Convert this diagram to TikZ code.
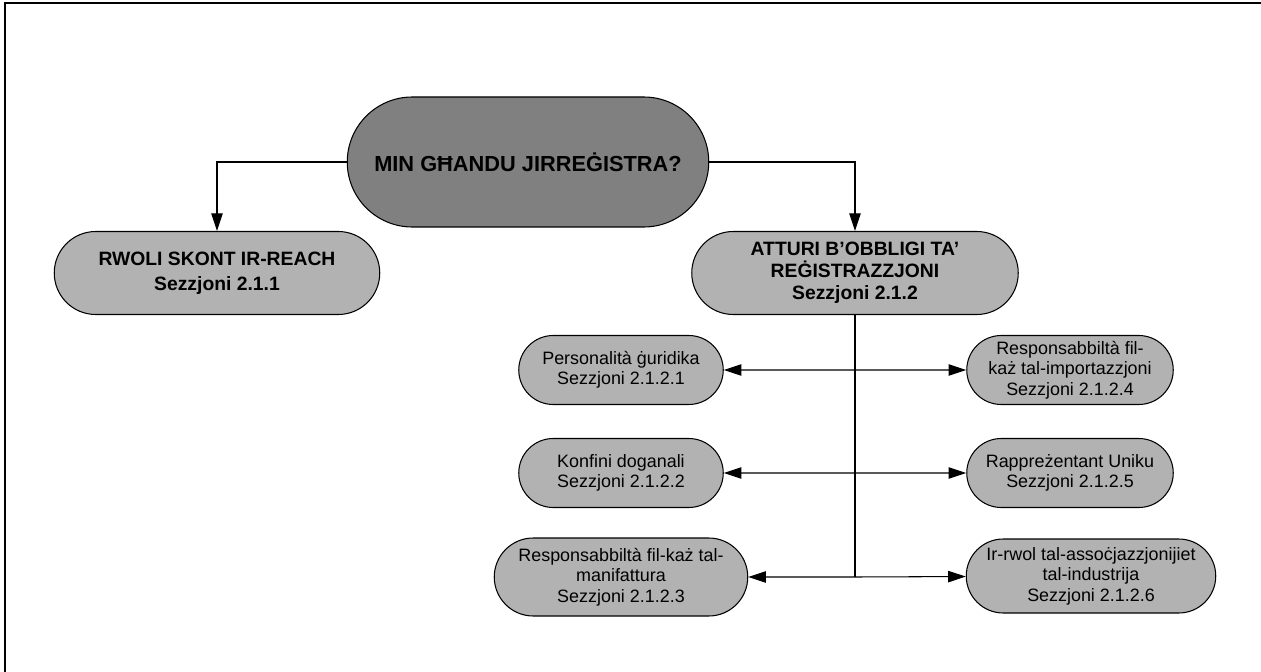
\documentclass[tikz,border=0pt]{standalone}
\usepackage{fontspec}
\setmainfont{Liberation Sans}
\usetikzlibrary{shapes.misc}
\usetikzlibrary{arrows.meta}

\begin{document}
\begin{tikzpicture}[x=0.02cm, y=-0.02cm]
        % ================= styles =================
        \tikzset{
            % stadium box
            pill/.style={rounded rectangle, draw=black, line width=0.6pt, align=center, inner sep=1pt},
            % the question (dark)
            mainpill/.style={pill, fill=black!50, font=\fontsize{12.4}{14}\selectfont\bfseries},
            % second level (bold)
            headpill/.style={pill, fill=black!30, font=\fontsize{11}{12.5}\selectfont\bfseries},
            % third level
            subpill/.style={pill, fill=black!30, font=\fontsize{10.2}{11.6}\selectfont},
            % connectors
            link/.style={line width=0.6pt, black},
            arrow/.style={link, -{Triangle[length=10pt, width=6.5pt]}},
            twoway/.style={link, {Triangle[length=10pt, width=6.5pt]}-{Triangle[length=10pt, width=6.5pt]}}
        }
        \useasboundingbox (0,0) rectangle (1261,672);

        % frame (cut at right and bottom)
        \draw[line width=1.2pt] (5,672) -- (5,3) -- (1261,3);

        % ================= top =================
        \node[mainpill, minimum width=365*0.02cm, minimum height=130*0.02cm] (question) at (528,162) {MIN GĦANDU JIRREĠISTRA?};

        % ================= second level =================
        \node[headpill, minimum width=329*0.02cm, minimum height=83*0.02cm] (rwoli) at (217,273) {RWOLI SKONT IR-REACH\\[2pt]Sezzjoni 2.1.1};
        \node[headpill, minimum width=330*0.02cm, minimum height=83*0.02cm] (atturi) at (855,273) {ATTURI B’OBBLIGI TA’\\REĠISTRAZZJONI\\Sezzjoni 2.1.2};

        \draw[arrow] (question.west) -| (rwoli.north);
        \draw[arrow] (question.east) -| (atturi.north);

        % ================= third level (left) =================
        \node[subpill, minimum width=208*0.02cm, minimum height=69*0.02cm] (guridika) at (621,370) {Personalità ġuridika\\Sezzjoni 2.1.2.1};
        \node[subpill, minimum width=208*0.02cm, minimum height=69*0.02cm] (konfini) at (621,473) {Konfini doganali\\Sezzjoni 2.1.2.2};
        \node[subpill, minimum width=257*0.02cm, minimum height=78*0.02cm] (manifattura) at (621,577) {Responsabbiltà fil-każ tal-\\manifattura\\Sezzjoni 2.1.2.3};

        % ================= third level (right) =================
        \node[subpill, minimum width=210*0.02cm, minimum height=69*0.02cm] (importazzjoni) at (1070,370) {Responsabbiltà fil-\\każ tal-importazzjoni\\Sezzjoni 2.1.2.4};
        \node[subpill, minimum width=210*0.02cm, minimum height=69*0.02cm] (uniku) at (1070,473) {Rappreżentant Uniku\\Sezzjoni 2.1.2.5};
        \node[subpill, minimum width=253*0.02cm, minimum height=74*0.02cm] (industrija) at (1091,576) {Ir-rwol tal-assoċjazzjonijiet\\tal-industrija\\Sezzjoni 2.1.2.6};

        % trunk
        \coordinate (foot) at (855,577);
        \draw[link] (atturi.south) -- (foot);

        % rows
        \draw[twoway] (guridika) -- (importazzjoni);
        \draw[twoway] (konfini) -- (uniku);
        \draw[arrow] (foot) -- (manifattura);
        \draw[arrow] (foot) -- (industrija);

    \end{tikzpicture}
\end{document}
